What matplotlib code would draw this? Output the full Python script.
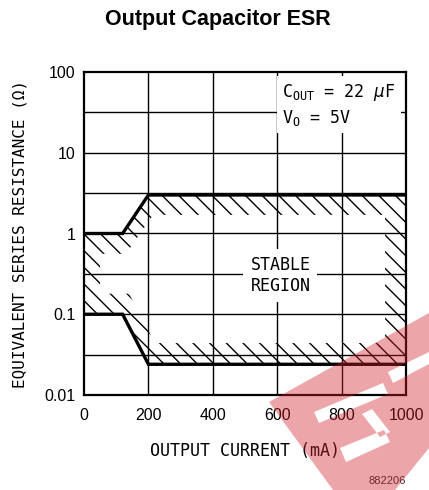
import numpy as np
import matplotlib
matplotlib.use("Agg")
import matplotlib.pyplot as plt
from matplotlib.path import Path
from matplotlib.patches import PathPatch

# boundaries of the stable region (output current mA, ESR ohm)
upper_x = [0, 120, 200, 1000]
upper_esr = [1.0, 1.0, 3.0, 3.0]
lower_x = [0, 120, 200, 1000]
lower_esr = [0.1, 0.1, 0.024, 0.024]

# inner edge of the hatched band
inner_x = [50, 130, 215, 935, 935, 220, 140, 50]
inner_esr = [0.56, 0.56, 1.7, 1.7, 0.044, 0.044, 0.18, 0.18]

x_ticks = [0, 200, 400, 600, 800, 1000]
y_ticks = [0.01, 0.1, 1, 10, 100]
y_ticklabels = ['0.01', '0.1', '1', '10', '100']
y_half = [0.0316, 0.316, 3.16, 31.6]

plt.rcParams['hatch.linewidth'] = 1.0
lab_font = 'DejaVu Sans Mono'
fig = plt.figure(figsize=(4.29, 4.90), dpi=100)
ax = fig.add_axes([84/429, 1-395/490, 322/429, 323/490])
ax.set_yscale('log')
ax.set_xlim(0, 1000)
ax.set_ylim(0.01, 100)

# grid
for xv in x_ticks[1:-1]:
    ax.axvline(xv, color='black', lw=1.0, zorder=1)
for yv in y_ticks[1:-1] + y_half:
    ax.axhline(yv, color='black', lw=1.0, zorder=1)

# hatched band (outer outline minus inner polygon)
outer = list(zip(upper_x, upper_esr)) + [(1000, lower_esr[-1])] + list(zip(lower_x[::-1], lower_esr[::-1]))
inner = list(zip(inner_x, inner_esr))[::-1]
verts = outer + [outer[0]] + inner + [inner[0]]
codes = ([Path.MOVETO] + [Path.LINETO] * (len(outer) - 1) + [Path.CLOSEPOLY] +
         [Path.MOVETO] + [Path.LINETO] * (len(inner) - 1) + [Path.CLOSEPOLY])
band = PathPatch(Path(verts, codes), facecolor='none', edgecolor='black', lw=0, hatch='\\\\', zorder=2)
ax.add_patch(band)

ax.plot(upper_x, upper_esr, color='black', lw=2.4, zorder=4, solid_joinstyle='miter')
ax.plot(lower_x, lower_esr, color='black', lw=2.4, zorder=4, solid_joinstyle='miter')

ax.set_xticks(x_ticks)
ax.set_xticklabels([str(v) for v in x_ticks], fontsize=11.5, family='Liberation Sans')
ax.set_yticks(y_ticks)
ax.set_yticklabels(y_ticklabels, fontsize=11.5, family='Liberation Sans')
ax.yaxis.set_minor_locator(matplotlib.ticker.NullLocator())
ax.tick_params(length=0, pad=6)
ax.tick_params(axis='x', pad=9)
for s in ax.spines.values():
    s.set_linewidth(1.6)
    s.set_zorder(5)

ax.set_xlabel('OUTPUT CURRENT (mA)', fontsize=12, family=lab_font, labelpad=14)
ax.set_ylabel('EQUIVALENT SERIES RESISTANCE (Ω)', fontsize=11.5, family=lab_font, labelpad=12)

ax.text(610, 0.3, 'STABLE\nREGION', ha='center', va='center', fontsize=12, linespacing=1.25,
        family=lab_font, bbox=dict(facecolor='white', edgecolor='none', pad=5), zorder=6)
ax.text(615, 75, '$\\mathregular{C_{OUT}}$ = 22 $\\mu$F\n$\\mathregular{V_O}$ = 5V', ha='left', va='top',
        fontsize=12, linespacing=1.3, family=lab_font,
        bbox=dict(facecolor='white', edgecolor='none', pad=4), zorder=6)

fig.text(218/429, 1-19/490, 'Output Capacitor ESR', ha='center', va='center', fontsize=15.5,
         fontweight='bold', family='Liberation Sans')
fig.text(406/429, 1-481/490, '882206', ha='right', va='center', fontsize=8, color='#333333',
         family='Liberation Sans')

# red watermark in the lower right corner
def fpx(pts):
    return [(x/429, 1-y/490) for x, y in pts]

wm_outer = fpx([(269, 402), (429, 313), (429, 448), (395, 490), (333, 490)])
holes = [fpx([(314, 412), (383, 383), (388, 394), (319, 423)]),
         fpx([(388, 372), (429, 352), (429, 364), (393, 383)]),
         fpx([(340, 448), (384, 430), (390, 442), (346, 462)]),
         fpx([(362, 414), (372, 409), (390, 432), (380, 437)])]
wv = wm_outer + [wm_outer[0]]
wc = [Path.MOVETO] + [Path.LINETO] * (len(wm_outer) - 1) + [Path.CLOSEPOLY]
for h in holes:
    h = h[::-1]
    wv += h + [h[0]]
    wc += [Path.MOVETO] + [Path.LINETO] * (len(h) - 1) + [Path.CLOSEPOLY]
fig.patches.append(PathPatch(Path(wv, wc), transform=fig.transFigure, facecolor='#d0202a',
                             edgecolor='none', alpha=0.4, zorder=10))

fig.savefig('out.png', dpi=100)
